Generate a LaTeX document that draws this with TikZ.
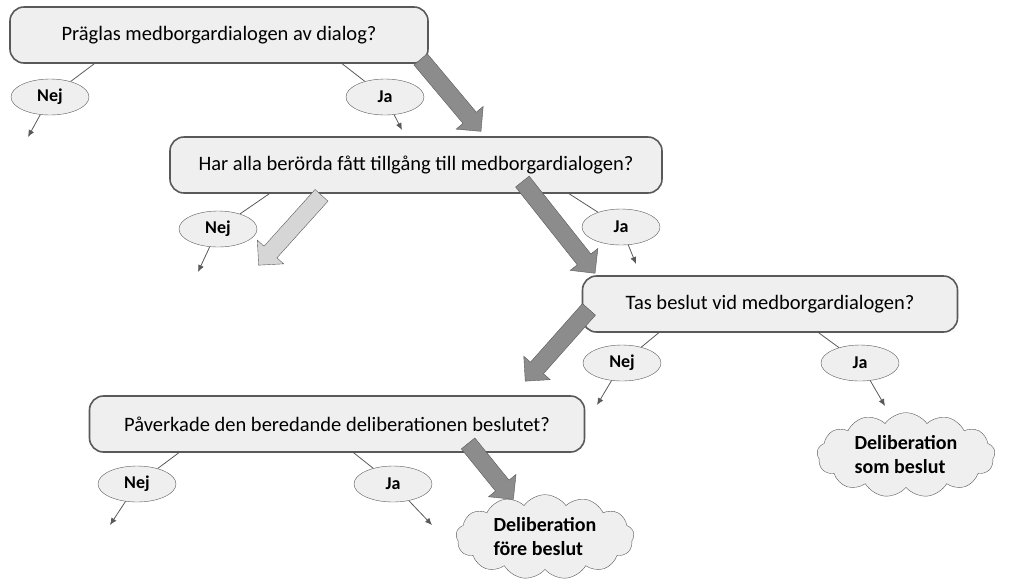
\documentclass[tikz,border=0pt]{standalone}
\usepackage{fontspec}
\setmainfont{Carlito}
\usetikzlibrary{shapes.geometric,shapes.arrows,shapes.symbols,arrows.meta,backgrounds}
\definecolor{boxfill}{HTML}{EFEFEF}
\definecolor{edge}{HTML}{595959}
\definecolor{darkarrow}{HTML}{8C8C8C}
\definecolor{lightarrow}{HTML}{D6D6D6}
\begin{document}
\begin{tikzpicture}[
    x=1pt, y=-1pt,
    question/.style={
        rectangle,
        rounded corners=14pt,
        draw=edge,
        line width=1.6pt,
        fill=boxfill,
        minimum height=56pt,
        font=\fontsize{20.5}{22}\selectfont
    },
    answer/.style={
        ellipse,
        draw=edge,
        fill=boxfill,
        minimum width=78pt,
        minimum height=36pt,
        inner sep=0pt,
        font=\fontsize{18}{20}\selectfont\bfseries
    },
    result/.style={
        cloud, cloud puffs=13, cloud puff arc=110, aspect=2.3,
        draw=edge,
        fill=boxfill,
        minimum width=178pt,
        minimum height=82pt,
        align=left,
        font=\fontsize{20}{24}\selectfont\bfseries
    },
    flow/.style={
        single arrow,
        draw=edge,
        fill=#1,
        inner sep=8.5pt,
        single arrow head extend=9pt,
        anchor=center
    },
    thin/.style={edge, line width=0.8pt},
    tip/.style={-{Latex[length=7pt,width=6pt]}, edge, line width=0.8pt}
]
\useasboundingbox (0,0) rectangle (1024,582);

% questions
\node[question, minimum width=418pt] (q1) at (219,35) {Präglas medborgardialogen av dialog?};
\node[question, minimum width=492pt] (q2) at (416,165) {Har alla berörda fått tillgång till medborgardialogen?};
\node[question, minimum width=375pt] (q3) at (770,304) {Tas beslut vid medborgardialogen?};
\node[question, minimum width=495pt] (q4) at (337,424) {Påverkade den beredande deliberationen beslutet?};

% answers
\node[answer] (n1) at (50,97) {Nej};
\node[answer] (j1) at (385,97) {Ja};
\node[answer] (n2) at (218,229) {Nej};
\node[answer] (j2) at (621,227) {Ja};
\node[answer] (n3) at (622,363) {Nej};
\node[answer] (j3) at (860,363) {Ja};
\node[answer] (n4) at (137,484) {Nej};
\node[answer] (j4) at (393,484) {Ja};

% results
\node[result] (r1) at (906,455) {Deliberation\\som beslut};
\node[result] (r2) at (545,537) {Deliberation\\före beslut};

% loose ends
\coordinate (e1) at (28,137);
\coordinate (f1) at (402,130);
\coordinate (e2) at (198,272);
\coordinate (f2) at (636,264);
\coordinate (e3) at (597,405);
\coordinate (f3) at (885,406);
\coordinate (e4) at (110,525);
\coordinate (f4) at (432,525);

\begin{scope}[on background layer]
\draw[thin] (q1.south west) ++(85,0) -- (n1);
\draw[thin] (q1.south west) ++(333,0) -- (j1);
\draw[thin] (q2.south west) ++(100,0) -- (n2);
\draw[thin] (q2.south west) ++(400,0) -- (j2);
\draw[thin] (q3.south west) ++(77,0) -- (n3);
\draw[thin] (q3.south west) ++(237,0) -- (j3);
\draw[thin] (q4.south west) ++(90,0) -- (n4);
\draw[thin] (q4.south west) ++(265,0) -- (j4);
\end{scope}

\draw[tip] (n1) -- (e1);
\draw[tip] (j1) -- (f1);
\draw[tip] (n2) -- (e2);
\draw[tip] (j2) -- (f2);
\draw[tip] (n3) -- (e3);
\draw[tip] (j3) -- (f3);
\draw[tip] (n4) -- (e4);
\draw[tip] (j4) -- (f4);

% flow arrows
\node[flow=darkarrow, minimum height=94pt, rotate=-50] (a1) at (448,92) {};
\node[flow=lightarrow, minimum height=94pt, rotate=-132] (a2) at (293,227) {};
\node[flow=darkarrow, minimum height=117pt, rotate=-51.6] (a3) at (556,224) {};
\node[flow=darkarrow, minimum height=96pt, rotate=-131.6] (a4) at (560,342) {};
\node[flow=darkarrow, minimum height=72pt, rotate=-51] (a5) at (488,468) {};
\end{tikzpicture}
\end{document}
